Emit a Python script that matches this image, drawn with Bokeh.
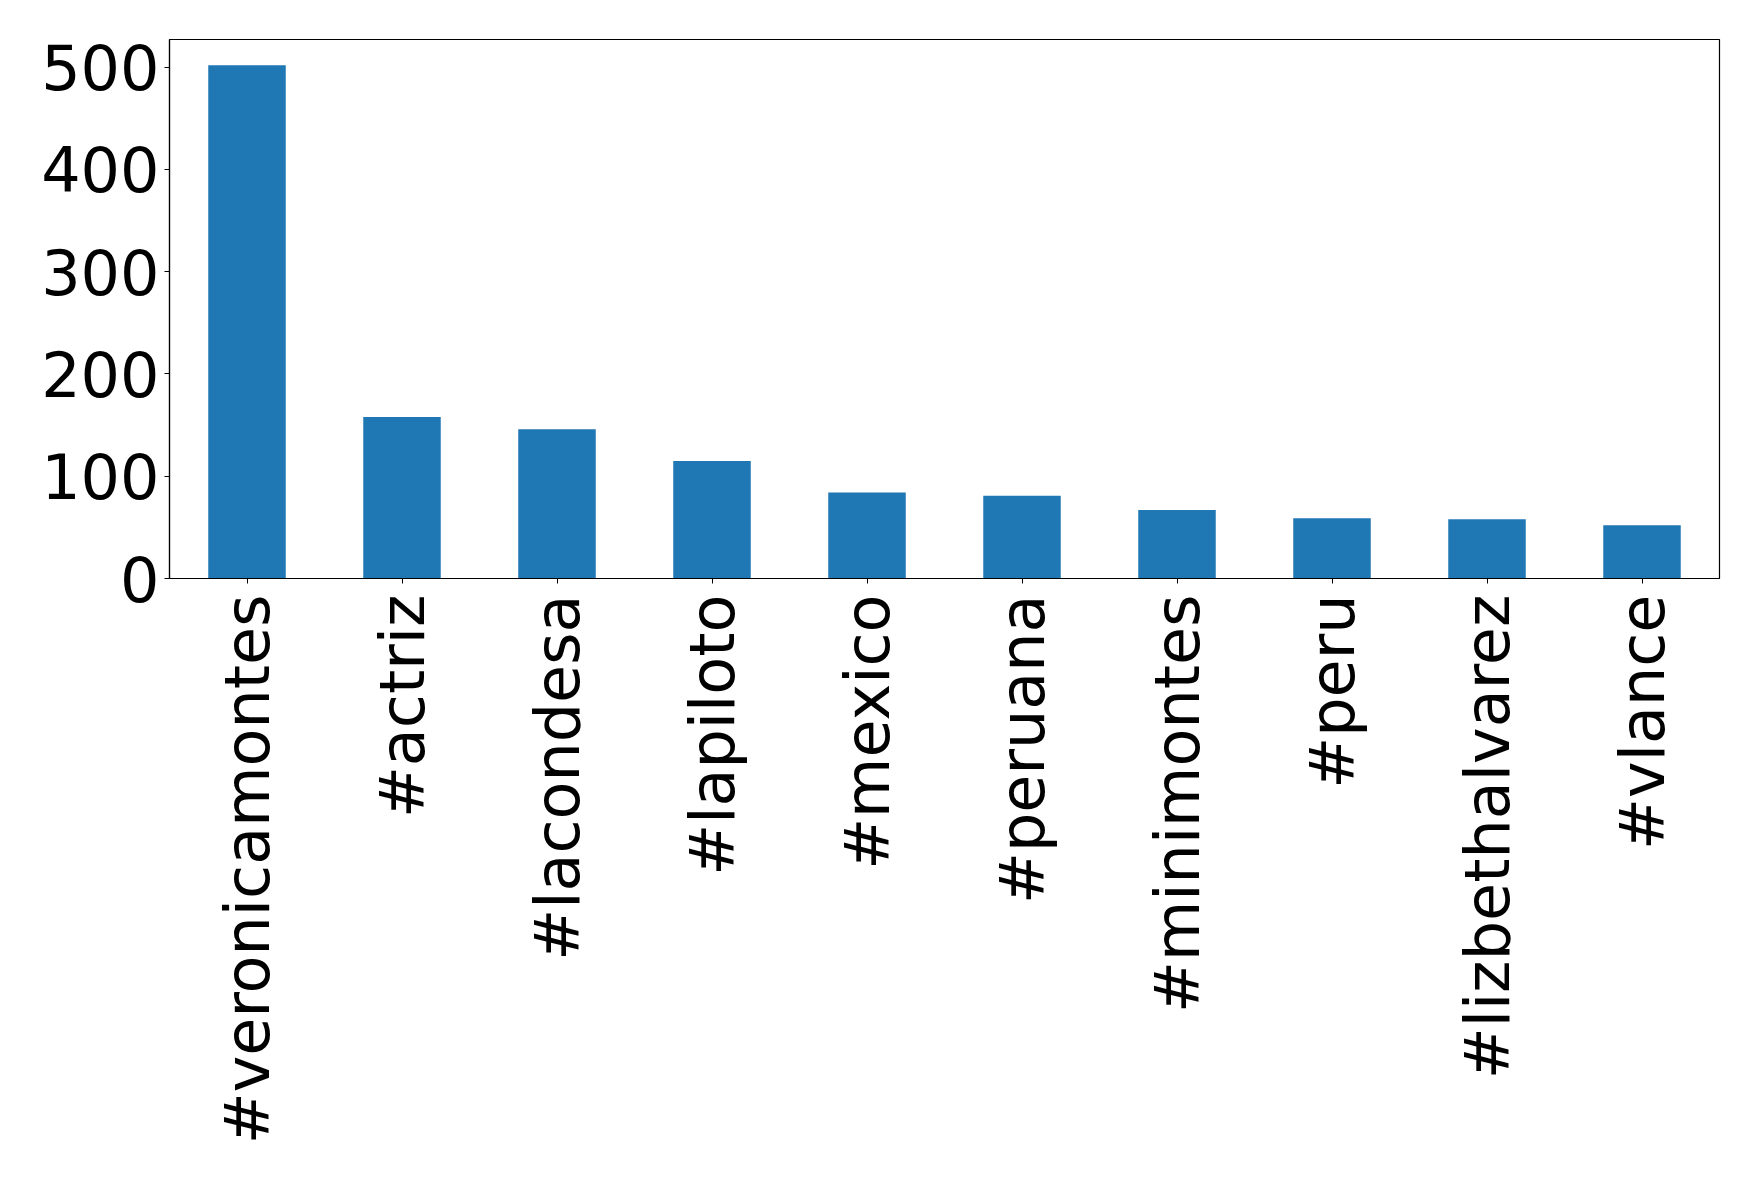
from bokeh.plotting import figure
from bokeh.models import Range1d, FactorRange, ColumnDataSource, FixedTicker
from bokeh.embed import file_html
from bokeh.resources import INLINE
import math

hashtags = ["#veronicamontes", "#actriz", "#lacondesa", "#lapiloto", "#mexico",
            "#peruana", "#minimontes", "#peru", "#lizbethalvarez", "#vlance"]
counts = [502, 158, 146, 115, 84, 81, 67, 59, 58, 52]
y_ticks = [0, 100, 200, 300, 400, 500]

src = ColumnDataSource(dict(tag=hashtags, n=counts))

p = figure(x_range=FactorRange(factors=hashtags), y_range=Range1d(0, max(counts) * 1.05),
           width=1751, height=1174, output_backend="svg", toolbar_location=None,
           min_border_left=169, min_border_top=39, min_border_right=32, min_border_bottom=596)

p.vbar(x="tag", top="n", width=0.5, source=src, color="#1f77b4", line_color=None)

p.xgrid.visible = False
p.ygrid.visible = False
p.outline_line_color = "black"
p.outline_line_width = 1.2
p.outline_line_alpha = 1

for ax in (p.xaxis, p.yaxis):
    ax.axis_line_color = "black"
    ax.axis_line_width = 1.2
    ax.major_tick_line_color = "black"
    ax.major_tick_out = 5
    ax.major_tick_in = 0
    ax.minor_tick_line_color = None
    ax.major_label_text_font = "DejaVu Sans"
    ax.major_label_text_font_size = "62px"
    ax.major_label_text_color = "black"

p.yaxis.ticker = FixedTicker(ticks=y_ticks)
p.yaxis.major_label_standoff = 5
p.xaxis.major_label_orientation = math.pi / 2
p.xaxis.major_label_standoff = 11

open("out.html", "w").write(file_html(p, INLINE))
